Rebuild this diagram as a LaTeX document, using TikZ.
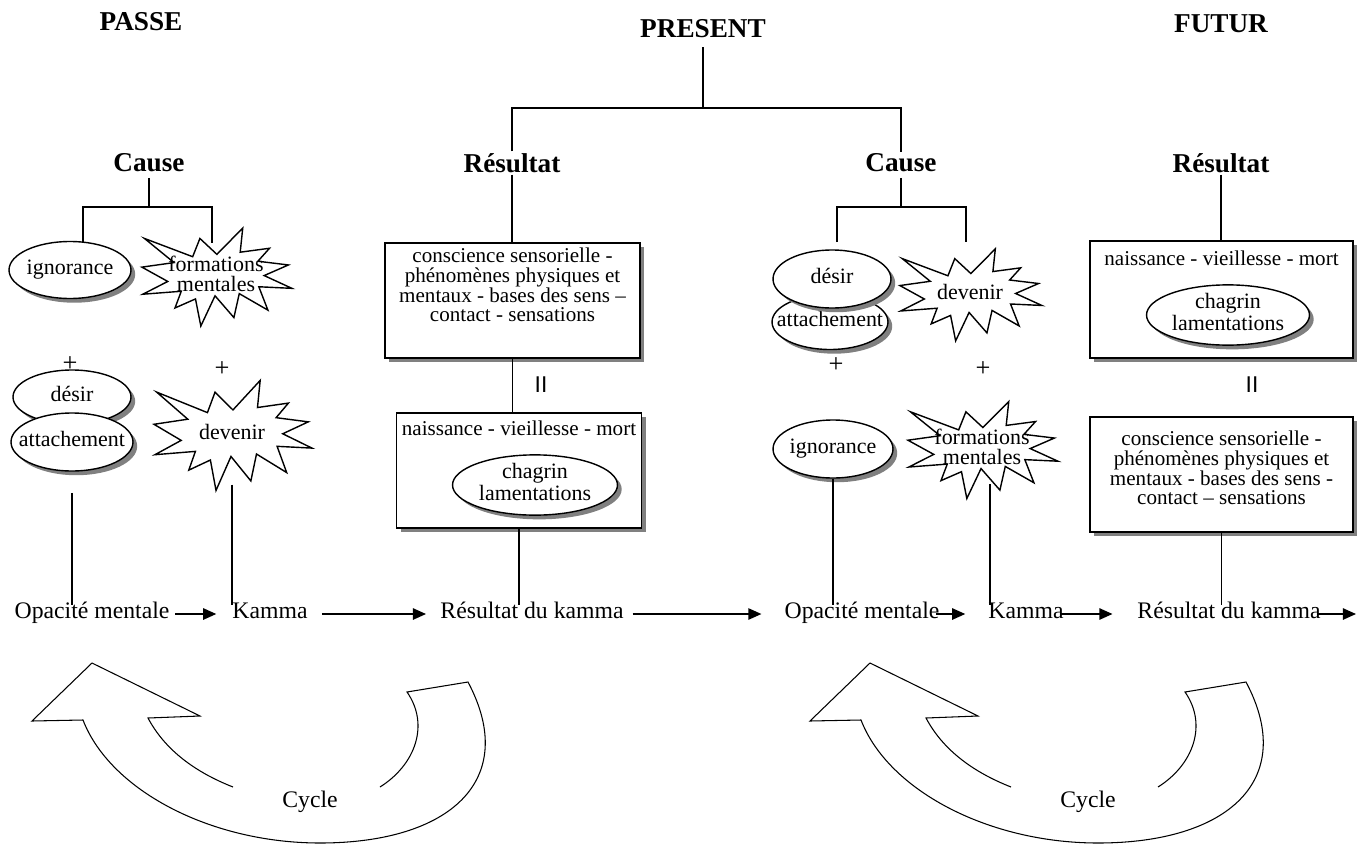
\documentclass[tikz,border=0pt]{standalone}
\usepackage{fontspec}
\setmainfont{Liberation Serif}
\newfontfamily\barsfont{Liberation Sans}
\usetikzlibrary{arrows.meta,positioning,shapes.geometric,shadows}

\tikzset{
  head/.style={font=\fontsize{15.5}{17}\selectfont\bfseries, inner sep=1pt},
  lbl/.style={font=\fontsize{13.5}{15}\selectfont, inner sep=0pt, text height=1.7ex, text depth=0.5ex},
  stem/.style={line width=0.6pt},
  arr/.style={line width=0.9pt, -{Triangle[length=7.5pt,width=6.5pt]}},
  dshadow/.style={drop shadow={shadow xshift=2.4pt, shadow yshift=-2.4pt, fill=black!50, opacity=1}},
  oval/.style={ellipse, draw, line width=0.8pt, fill=white, inner sep=0pt, dshadow, font=\fontsize{12.5}{11.5}\selectfont},
  panel/.style={rectangle, draw, line width=1pt, fill=white, dshadow, inner sep=0pt},
  paneltext/.style={align=center, inner sep=0pt, font=\fontsize{12}{11.3}\selectfont},
  burstline/.style={draw, line width=0.8pt, fill=white, line join=miter},
  bursttext/.style={align=center, inner sep=0pt, font=\fontsize{12.5}{11.5}\selectfont},
  sign/.style={font=\fontsize{15}{17}\selectfont, inner sep=0pt},
}

% text set inside an ellipse without widening it
\newcommand{\inoval}[1]{\makebox[0pt]{\begin{tabular}{@{}c@{}}#1\end{tabular}}}

% explosion outline: name, text centre, width, height, text
\newcommand{\burst}[5]{%
  \begin{scope}[shift={(#2)}, xscale=#3, yscale=#4, shift={(-0.494,-0.469)}]
    \path[burstline] (0.5,0.2685) \foreach \bx/\by in {0.6723/0, 0.6553/0.2465,
      0.8509/0.2063, 0.7732/0.3387, 0.9767/0.3767, 0.8151/0.4850, 1/0.6153,
      0.7795/0.5992, 0.8400/0.8377, 0.6491/0.6693, 0.6133/0.9137, 0.4876/0.6914,
      0.3928/1, 0.3572/0.7235, 0.2205/0.8156, 0.2624/0.6452, 0.0063/0.6753,
      0.1723/0.5451, 0/0.3988, 0.2142/0.3526, 0.0171/0.1063, 0.3385/0.2926,
      0.3867/0.1063} {-- (\bx,\by)} -- cycle;
  \end{scope}
  \node[bursttext] (#1) at (#2) {#5};
}

\begin{document}
\begin{tikzpicture}[x=0.02cm, y=-0.02cm]
  \useasboundingbox (0,0) rectangle (1358,845);

  % headings
  \node[head] (passe) at (141,22) {PASSE};
  \node[head] (pres) at (703,29) {PRESENT};
  \node[head] (futur) at (1221,24) {FUTUR};
  \node[head] (causeL) at (149,163) {Cause};
  \node[head] (resM) at (512,163) {Résultat};
  \node[head] (causeM) at (901,163) {Cause};
  \node[head] (resR) at (1221,163) {Résultat};

  % brackets
  \coordinate (barP) at (703,108);
  \draw[stem, shorten <=4pt] (pres.south) -- (barP);
  \draw[stem] (resM.north) |- (barP) -| (causeM.north);
  \coordinate (bkL) at (149,207);
  \coordinate (dL1) at (83,243);
  \coordinate (dL2) at (212,243);
  \draw[stem, shorten <=2pt] (causeL.south) -- (bkL);
  \draw[stem] (dL1) |- (bkL) -| (dL2);
  \coordinate (bkM) at (901,207);
  \coordinate (dM1) at (837,242);
  \coordinate (dM2) at (966,242);
  \draw[stem, shorten <=2pt] (causeM.south) -- (bkM);
  \draw[stem] (dM1) |- (bkM) -| (dM2);

  % passe : cause
  \node[oval, minimum width=2.44cm, minimum height=1.14cm] (ignL) at (70,270) {\inoval{ignorance}};
  \burst{fmL}{216,274}{150}{98}{formations\\mentales}
  \node[sign] (plusL1) at (70,364) {+};
  \node[sign] (plusL2) at (222,369) {+};
  \node[oval, minimum width=2.36cm, minimum height=1.08cm] (desL) at (72,397) {\inoval{désir}};
  \node[oval, minimum width=2.44cm, minimum height=1.16cm] (attL) at (72,442) {\inoval{attachement}};
  \burst{devL}{232,432}{158}{110}{devenir}

  % present : resultat
  \node[panel, minimum width=5.1cm, minimum height=2.3cm] (box1) at (512.5,300.5) {};
  \node[paneltext] (txt1) at (512.5,285) {conscience sensorielle -\\phénomènes physiques et\\mentaux - bases des sens –\\contact - sensations};
  \node[sign, font={\barsfont\fontsize{13}{15}\selectfont}] (eqM) at (541,385) {II};
  \node[panel, minimum width=4.9cm, minimum height=2.3cm] (box2) at (519,470.5) {};
  \node[paneltext] (txt2) at (519,428) {naissance - vieillesse - mort};
  \node[oval, minimum width=3.3cm, minimum height=1.2cm] (chgM) at (535,485) {\inoval{chagrin\\lamentations}};

  % present : cause
  \node[oval, minimum width=2.32cm, minimum height=1.1cm] (attM) at (830,322) {\inoval{attachement}};
  \node[oval, minimum width=2.36cm, minimum height=1.16cm] (desM) at (832,279) {\inoval{désir}};
  \burst{devM}{970,292}{142}{92}{devenir}
  \node[sign] (plusM1) at (836,365) {+};
  \node[sign] (plusM2) at (983,369) {+};
  \node[oval, minimum width=2.4cm, minimum height=1.16cm] (ignM) at (833,449) {\inoval{ignorance}};
  \burst{fmM}{982,447}{150}{97}{formations\\mentales}

  % futur : resultat
  \node[panel, minimum width=5.26cm, minimum height=2.34cm] (box3) at (1221.5,299.5) {};
  \node[paneltext] (txt3) at (1221.5,258) {naissance - vieillesse - mort};
  \node[oval, minimum width=3.26cm, minimum height=1.2cm] (chgR) at (1228,315) {\inoval{chagrin\\lamentations}};
  \node[sign, font={\barsfont\fontsize{13}{15}\selectfont}] (eqR) at (1252,385) {II};
  \node[panel, minimum width=5.26cm, minimum height=2.3cm] (box4) at (1221.5,474.5) {};
  \node[paneltext] (txt4) at (1221.5,468) {conscience sensorielle -\\phénomènes physiques et\\mentaux - bases des sens -\\contact – sensations};

  % vertical links
  \draw[stem] (resM.south) -- (resM.south |- box1.north);
  \draw[stem] (box1.south) -- (box1.south |- box2.north);
  \draw[stem] (resR.south) -- (resR.south |- box3.north);

  % time line
  \node[lbl] (opaL) at (92,614) {Opacité mentale};
  \node[lbl] (kamL) at (270,614) {Kamma};
  \node[lbl] (resLk) at (532,614) {Résultat du kamma};
  \node[lbl] (opaM) at (862,614) {Opacité mentale};
  \node[lbl] (kamM) at (1026,614) {Kamma};
  \node[lbl] (resRk) at (1229,614) {Résultat du kamma};
  \coordinate (endR) at (1356,614);

  \draw[stem, shorten <=12pt] (attL.south) -- (attL.south |- opaL.north);
  \draw[stem, shorten <=30pt] (devL.center) -- (devL.center |- kamL.north);
  \draw[stem] (box2.south) -- (box2.south |- resLk.north);
  \draw[stem] (ignM.south) -- (ignM.south |- opaM.north);
  \draw[stem, shorten <=21pt] ([xshift=0.16cm]fmM.center) -- ([xshift=0.16cm]fmM.center |- kamM.north);
  \draw[stem] (box4.south) -- (box4.south |- resRk.north);

  \draw[arr, shorten <=3pt, shorten >=9pt] (opaL) -- (kamL);
  \draw[arr, shorten <=8pt, shorten >=8pt] (kamL) -- (resLk);
  \draw[arr, shorten <=5pt, shorten >=13pt] (resLk) -- (opaM);
  \draw[arr, shorten <=-2pt, shorten >=13pt] (opaM) -- (kamM);
  \draw[arr, shorten <=-2pt, shorten >=14pt] (kamM) -- (resRk);
  \draw[arr, shorten <=-2pt] (resRk) -- (endR);

  % cycle arrows
  \foreach \dx/\nm in {0/cycA, 778/cycB}{
    \begin{scope}[shift={(\dx,0)}]
      \draw[line width=0.6pt, line join=miter] (233,787) .. controls (195,772) and (165,750) .. (148,718)
        -- (200,716) -- (92,663) -- (32,721) -- (83,720)
        .. controls (110,790) and (210,843) .. (320,843)
        .. controls (450,843) and (520,780) .. (468,682) -- (407,692)
        .. controls (430,725) and (415,765) .. (380,787);
      \node[lbl] (\nm) at (310,803) {Cycle};
    \end{scope}
  }
\end{tikzpicture}
\end{document}
